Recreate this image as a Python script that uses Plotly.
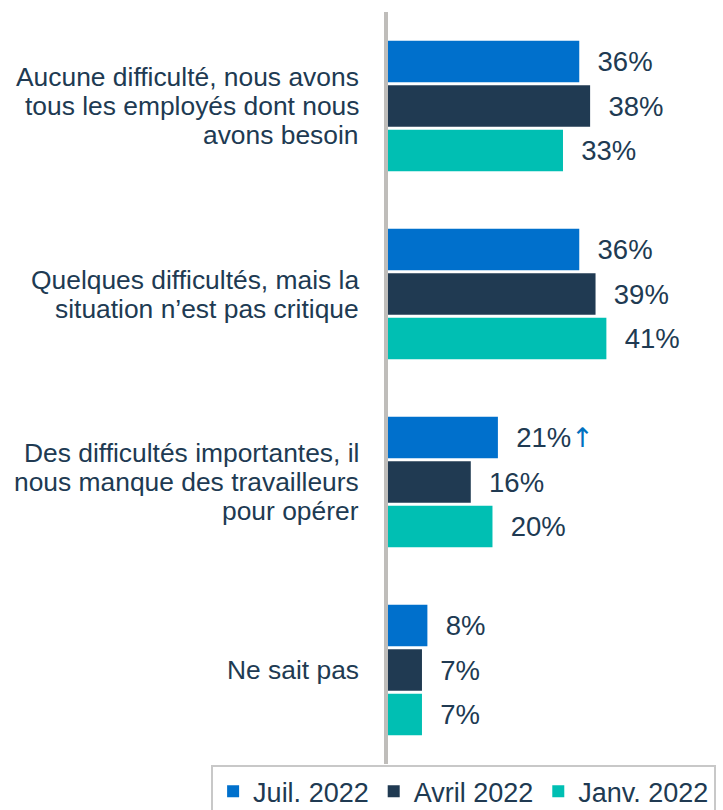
import plotly.graph_objects as go

categories = [
    "Aucune difficulté, nous avons<br>tous les employés dont nous<br>avons besoin",
    "Quelques difficultés, mais la<br>situation n’est pas critique",
    "Des difficultés importantes, il<br>nous manque des travailleurs<br>pour opérer",
    "Ne sait pas",
]
series_names = ["Juil. 2022", "Avril 2022", "Janv. 2022"]
juil_2022 = [36, 36, 21, 8]
avril_2022 = [38, 39, 16, 7]
janv_2022 = [33, 41, 20, 7]
juil_markers = ["", "", "↑", ""]

colors = ["#0070CC", "#203A52", "#00BFB3"]
text_color = "#203A52"
font_family = "Liberation Sans, Arial, sans-serif"

series_values = [juil_2022, avril_2022, janv_2022]
series_marks = [juil_markers, ["", "", "", ""], ["", "", "", ""]]

fig = go.Figure()
for name, vals, marks, col in zip(series_names, series_values, series_marks, colors):
    texts = []
    for v, m in zip(vals, marks):
        suffix = (f"<span style='color:#0070C0;font-family:DejaVu Sans;font-size:27px'>{m}</span>"
                  if m else "")
        texts.append(f"\u00a0\u00a0{v}%{suffix}")
    fig.add_trace(go.Bar(
        name=name,
        y=categories,
        x=vals,
        orientation="h",
        marker=dict(color=col, line=dict(width=0)),
        text=texts,
        textposition="outside",
        textfont=dict(size=27.5, color=text_color, family=font_family),
        constraintext="none",
        cliponaxis=False,
        hoverinfo="skip",
    ))

annotations = []
line_h = 29
for cat in categories:
    lines = cat.split("<br>")
    n = len(lines)
    for i, ln in enumerate(lines):
        annotations.append(dict(
            x=0, y=cat, xref="x", yref="y",
            text=ln, showarrow=False,
            xanchor="right", yanchor="middle",
            xshift=-23, yshift=((n - 1) / 2 - i) * line_h,
            font=dict(size=26.4, color=text_color, family=font_family),
        ))

fig.update_layout(
    width=723, height=810,
    margin=dict(l=384, r=0, t=12, b=46, autoexpand=False),
    paper_bgcolor="white", plot_bgcolor="white",
    barmode="group", bargap=0.29, bargroupgap=0.07,
    showlegend=True,
    legend=dict(
        orientation="h",
        x=-0.51, xanchor="left",
        y=-0.0015, yanchor="top",
        bgcolor="white", bordercolor="#C8C8C8", borderwidth=2,
        font=dict(size=27, color=text_color, family=font_family),
        traceorder="normal",
    ),
    xaxis=dict(range=[0, 62.5], visible=False, fixedrange=True),
    yaxis=dict(autorange="reversed", showticklabels=False, showgrid=False,
               zeroline=False, showline=False, ticks=""),
    annotations=annotations,
    shapes=[dict(type="line", xref="x", yref="paper", x0=0, x1=0, y0=0, y1=1,
                 line=dict(color="#BFBDBA", width=8), layer="above")],
    font=dict(family=font_family, color=text_color),
)

fig.write_html("out.html",
               config={"displayModeBar": False},
               post_script="document.body.style.margin='0';document.body.style.overflow='hidden';")
